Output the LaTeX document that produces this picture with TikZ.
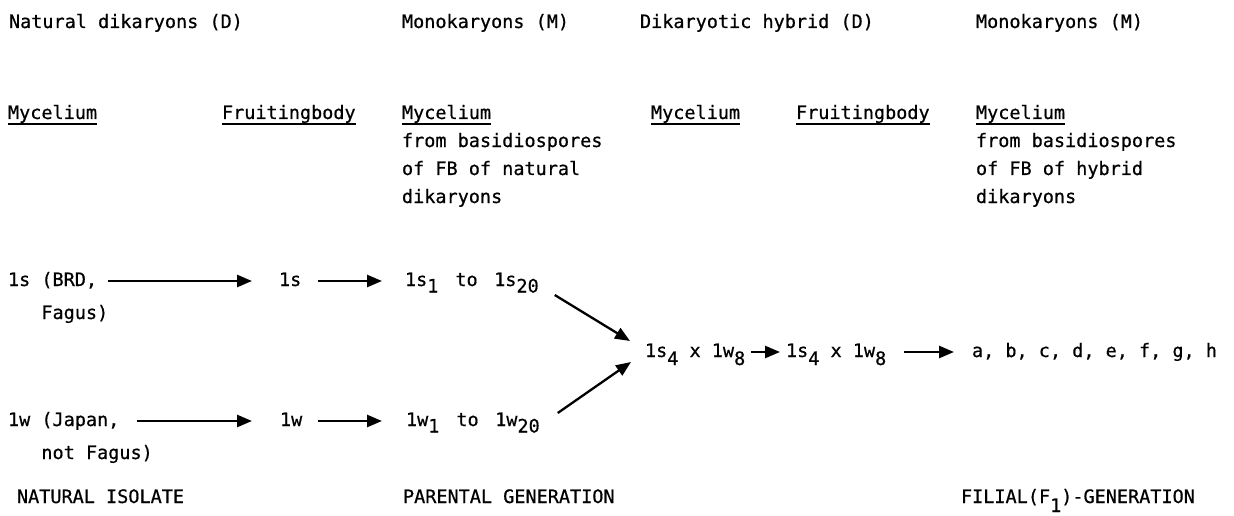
\documentclass[tikz,border=0pt]{standalone}
\usepackage{fontspec}
\newfontfamily\tw[FakeBold=0.6]{DejaVu Sans Mono}
\usetikzlibrary{arrows.meta}
\newcommand\lowr[2][6.5pt]{\raisebox{-#1}{#2}}
\begin{document}
\begin{tikzpicture}[x=1pt,y=-1pt,
  lbl/.style={anchor=base west, inner sep=0pt, outer sep=0pt, font=\tw\fontsize{18.5}{22}\selectfont},
  arr/.style={line width=2.6pt, -{Triangle[length=15pt,width=12pt]}},
  diag/.style={line width=2.3pt, -{Triangle[length=15pt,width=12pt]}},
  uline/.style={line width=1.8pt}]
\useasboundingbox[fill=white] (0,0) rectangle (1234,516);
% top row
\node[lbl] (t1) at (9,28) {Natural dikaryons (D)};
\node[lbl] (t2) at (402,28) {Monokaryons (M)};
\node[lbl] (t3) at (640,28) {Dikaryotic hybrid (D)};
\node[lbl] (t4) at (976,28) {Monokaryons (M)};
% headers
\node[lbl] (h1) at (8,119) {Mycelium};
\node[lbl] (h2) at (222,119) {Fruitingbody};
\node[lbl] (h3) at (402,119) {Mycelium};
\node[lbl] (h4) at (651,119) {Mycelium};
\node[lbl] (h5) at (796,119) {Fruitingbody};
\node[lbl] (h6) at (976,119) {Mycelium};
\foreach \h in {h1,h2,h3,h4,h5,h6}
  \draw[uline] ([yshift=-5pt]\h.base west) -- ([yshift=-5pt]\h.base east);
% descriptions
\node[lbl] (d1a) at (402,147) {from basidiospores};
\node[lbl] (d1b) at (402,175) {of FB of natural};
\node[lbl] (d1c) at (402,203) {dikaryons};
\node[lbl] (d2a) at (976,147) {from basidiospores};
\node[lbl] (d2b) at (976,175) {of FB of hybrid};
\node[lbl] (d2c) at (976,203) {dikaryons};
% 1s row
\node[lbl] (s0) at (8,286) {1s (BRD,};
\node[lbl] (s0b) at (8,319) {\hphantom{1s }Fagus)};
\node[lbl] (s1) at (279,286) {1s};
\node[lbl] (s2) at (405,286) {1s\lowr{1}\hspace{17pt}to\hspace{16.5pt}1s\lowr{20}};
% 1w row
\node[lbl] (w0) at (8,426) {1w (Japan,};
\node[lbl] (w0b) at (8,459) {\hphantom{1w }not Fagus)};
\node[lbl] (w1) at (280,426) {1w};
\node[lbl] (w2) at (406,426) {1w\lowr{1}\hspace{17pt}to\hspace{16.5pt}1w\lowr{20}};
% middle row
\node[lbl] (m0) at (645,357) {1s\lowr[8pt]{4} x 1w\lowr[8pt]{8}};
\node[lbl] (m1) at (786,357) {1s\lowr[8pt]{4} x 1w\lowr[8pt]{8}};
\node[lbl] (m2) at (972,357) {a, b, c, d, e, f, g, h};
% bottom
\node[lbl] (b1) at (17,503) {NATURAL ISOLATE};
\node[lbl] (b2) at (403,503) {PARENTAL GENERATION};
\node[lbl] (b3) at (961,503) {FILIAL(F\lowr[9pt]{1})-GENERATION};
% arrows
\draw[arr] ([shift={(11pt,5pt)}]s0.base east) -- ([shift={(-27pt,5pt)}]s1.base west);
\draw[arr] ([shift={(17pt,5pt)}]s1.base east) -- ([shift={(-23pt,5pt)}]s2.base west);
\draw[arr] ([shift={(17.5pt,5pt)}]w0.base east) -- ([shift={(-28pt,5pt)}]w1.base west);
\draw[arr] ([shift={(16pt,5pt)}]w1.base east) -- ([shift={(-24pt,5pt)}]w2.base west);
\draw[diag] ([shift={(16pt,-9pt)}]s2.base east) -- ([shift={(-15pt,16pt)}]m0.base west);
\draw[diag] ([shift={(18pt,13pt)}]w2.base east) -- ([shift={(-14pt,-5pt)}]m0.base west);
\draw[arr] ([shift={(6pt,5pt)}]m0.base east) -- ([shift={(-6pt,5pt)}]m1.base west);
\draw[arr] ([shift={(18pt,5pt)}]m1.base east) -- ([shift={(-18pt,5pt)}]m2.base west);
\end{tikzpicture}
\end{document}
